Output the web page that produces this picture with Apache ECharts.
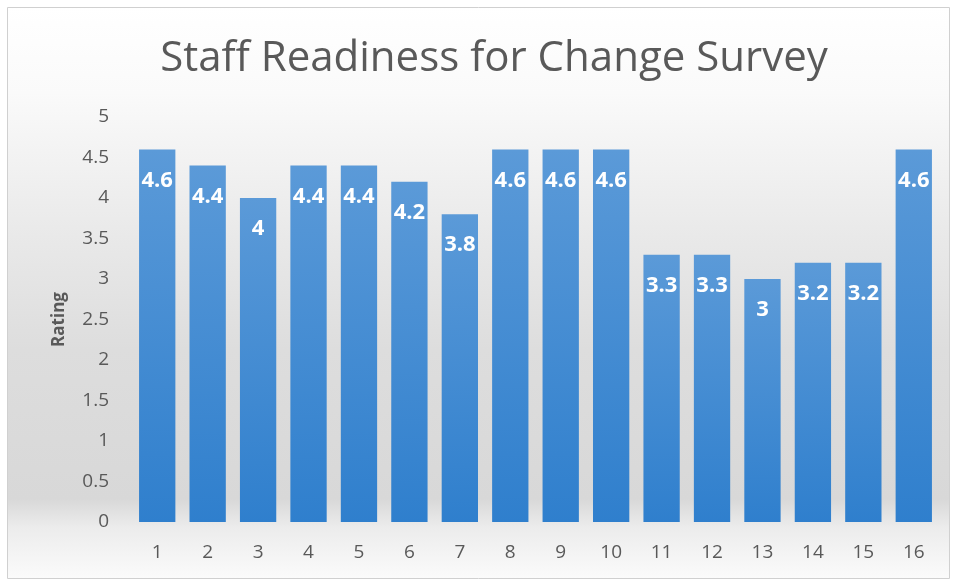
<!DOCTYPE html>
<html><head><meta charset="utf-8">
<script src="https://cdn.jsdelivr.net/npm/echarts@6/dist/echarts.min.js"></script>
<style>html,body{margin:0;padding:0;background:#fff}#c{width:956px;height:580px}</style>
</head><body><div id="c"></div>
<script>
const categories = ['1','2','3','4','5','6','7','8','9','10','11','12','13','14','15','16'];
const ratings = [4.6,4.4,4,4.4,4.4,4.2,3.8,4.6,4.6,4.6,3.3,3.3,3,3.2,3.2,4.6];
const yTicks = {min:0, max:5, interval:0.5};

const chart = echarts.init(document.getElementById('c'), null, {renderer:'canvas'});
chart.setOption({
  animation:false,
  backgroundColor:'#ffffff',
  graphic:[{
    type:'rect', z:-10, silent:true,
    shape:{x:7.5,y:7.5,width:942,height:571},
    style:{
      stroke:'#d0d0d0', lineWidth:1,
      fill:new echarts.graphic.LinearGradient(0,0,0,1,[
        {offset:0,color:'#ffffff'},
        {offset:0.15,color:'#fafafa'},
        {offset:0.4,color:'#e9e9e9'},
        {offset:0.6,color:'#dddddd'},
        {offset:0.86,color:'#d8d8d8'},
        {offset:0.91,color:'#ececec'},
        {offset:1,color:'#fbfbfb'}
      ])
    }
  }],
  title:{
    text:'Staff Readiness for Change Survey',
    left:489, top:33, textAlign:'center',
    textStyle:{fontFamily:'Open Sans', fontSize:42, fontWeight:'normal', color:'#595959'}
  },
  grid:{left:132, right:17, top:117, bottom:58, containLabel:false},
  xAxis:{
    type:'category', data:categories,
    axisLine:{show:false}, axisTick:{show:false},
    axisLabel:{fontFamily:'Open Sans', fontSize:19, color:'#595959', margin:21}
  },
  yAxis:{
    type:'value', min:yTicks.min, max:yTicks.max, interval:yTicks.interval,
    name:'Rating', nameLocation:'middle', nameGap:64, nameRotate:90,
    nameTextStyle:{fontFamily:'Open Sans', fontSize:17, fontWeight:'bold', color:'#595959'},
    splitLine:{show:false}, axisLine:{show:false}, axisTick:{show:false},
    axisLabel:{fontFamily:'Open Sans', fontSize:19, color:'#595959', margin:23}
  },
  series:[{
    type:'bar', data:ratings, barCategoryGap:'28%',
    itemStyle:{color:new echarts.graphic.LinearGradient(0,0,0,1,[
      {offset:0,color:'#5b9ad8'},{offset:1,color:'#2f7fcd'}
    ])},
    label:{show:true, position:'insideTop', distance:20,
      fontFamily:'Open Sans', fontSize:22, fontWeight:'bold', color:'#ffffff'}
  }]
});
</script></body></html>
